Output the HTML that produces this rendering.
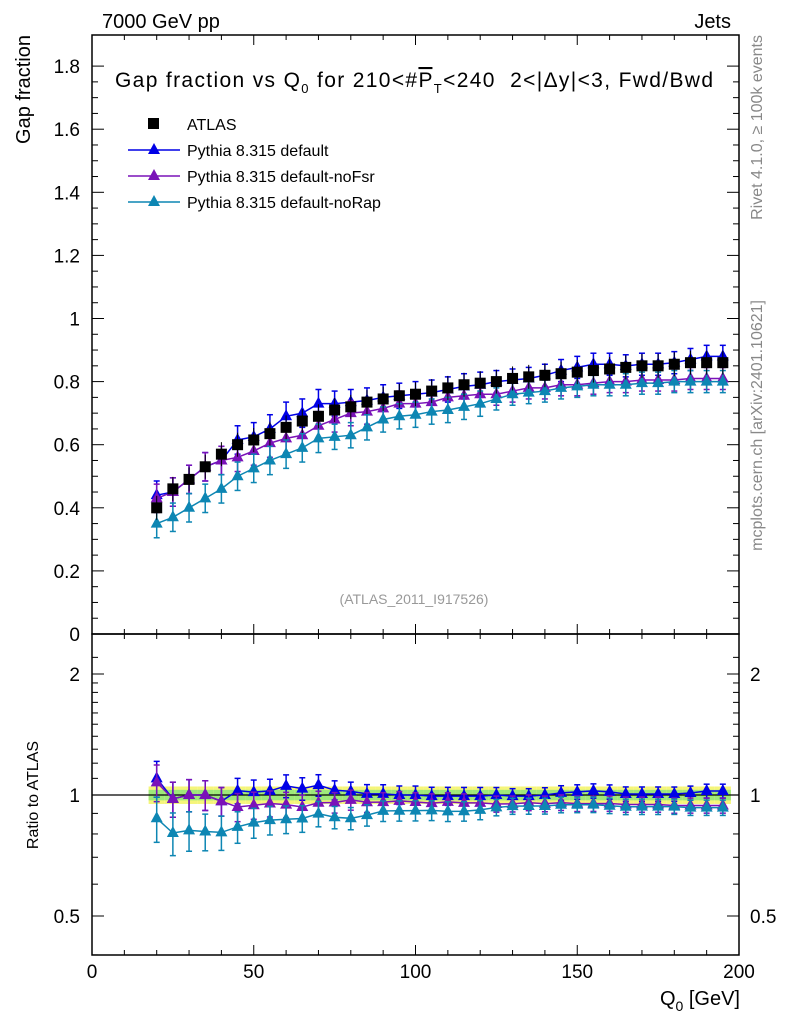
<!DOCTYPE html>
<html><head><meta charset="utf-8"><style>
body{margin:0;background:#fff;}
svg{display:block;font-family:"Liberation Sans",sans-serif;}
</style></head><body>
<svg id="c" width="786" height="1024" xmlns="http://www.w3.org/2000/svg"></svg>
<script>
const qvals=[20,25,30,35,40,45,50,55,60,65,70,75,80,85,90,95,100,105,110,115,120,125,130,135,140,145,150,155,160,165,170,175,180,185,190,195];
const atlas=[0.40,0.46,0.49,0.53,0.57,0.60,0.615,0.635,0.655,0.675,0.69,0.71,0.72,0.735,0.745,0.755,0.76,0.77,0.78,0.79,0.795,0.80,0.81,0.815,0.82,0.825,0.83,0.835,0.84,0.845,0.85,0.85,0.855,0.86,0.86,0.86];
const pyDefault=[0.44,0.45,0.49,0.53,0.55,0.615,0.625,0.65,0.69,0.70,0.73,0.73,0.735,0.74,0.75,0.755,0.76,0.765,0.775,0.785,0.79,0.80,0.805,0.81,0.82,0.835,0.845,0.855,0.855,0.85,0.855,0.855,0.86,0.87,0.88,0.88];
const pyNoFsr=[0.43,0.45,0.49,0.53,0.55,0.56,0.58,0.605,0.62,0.63,0.66,0.68,0.70,0.705,0.715,0.73,0.73,0.735,0.75,0.755,0.76,0.76,0.77,0.78,0.78,0.79,0.79,0.795,0.80,0.80,0.805,0.805,0.805,0.81,0.81,0.81];
const pyNoRap=[0.35,0.37,0.40,0.43,0.46,0.50,0.525,0.55,0.57,0.59,0.62,0.625,0.63,0.655,0.68,0.69,0.695,0.705,0.71,0.72,0.73,0.745,0.76,0.765,0.77,0.78,0.785,0.79,0.79,0.79,0.795,0.795,0.80,0.80,0.80,0.80];
const mcErr=[0.045,0.045,0.045,0.045,0.045,0.045,0.045,0.045,0.045,0.045,0.045,0.04,0.04,0.04,0.04,0.04,0.04,0.04,0.04,0.04,0.04,0.035,0.035,0.035,0.035,0.035,0.035,0.035,0.035,0.035,0.035,0.035,0.035,0.035,0.035,0.035];
const xTicks=[0,50,100,150,200];
const yTicks=[0,0.2,0.4,0.6,0.8,1,1.2,1.4,1.6,1.8];
const rTicks=[0.5,1,2];
const series=[
 {name:"Pythia 8.315 default",vals:pyDefault,col:"#0000e6",key:"default"},
 {name:"Pythia 8.315 default-noFsr",vals:pyNoFsr,col:"#7a12b8",key:"nofsr"},
 {name:"Pythia 8.315 default-noRap",vals:pyNoRap,col:"#0d86b3",key:"norap"}];

const svg=document.getElementById('c');
const NS="http://www.w3.org/2000/svg";
function mk(t,a,p){const e=document.createElementNS(NS,t);for(const k in a)e.setAttribute(k,a[k]);(p||svg).appendChild(e);return e;}
const L=92,R=739,T1=35,B1=634,T2=634,B2=955;
const X=v=>L+v*(R-L)/200;
const Y=v=>634-v*315.5;
const YR=r=>795-Math.log2(r)*121;

let f1=mk('rect',{x:L,y:T1,width:R-L,height:B1-T1,fill:'none',stroke:'#000','stroke-width':1.5});

let f2=mk('rect',{x:L,y:T2,width:R-L,height:B2-T2,fill:'none',stroke:'#000','stroke-width':1.5});


for(let v=0;v<=200;v+=10){const maj=v%50===0;const x=X(v);
 mk('line',{x1:x,y1:B1,x2:x,y2:B1-(maj?10:5),stroke:'#000'});
 mk('line',{x1:x,y1:T1,x2:x,y2:T1+(maj?10:5),stroke:'#000'});
 mk('line',{x1:x,y1:B2,x2:x,y2:B2-(maj?10:5),stroke:'#000'});
 mk('line',{x1:x,y1:T2,x2:x,y2:T2+(maj?10:5),stroke:'#000'});}
xTicks.forEach(v=>{const t=mk('text',{x:X(v),y:978,'font-size':19,'text-anchor':'middle'});t.textContent=v;
 });
for(let v=0;v<=1.85;v+=0.05){const maj=Math.abs(v*5-Math.round(v*5))<1e-6;const y=Y(v);
 mk('line',{x1:L,y1:y,x2:L+(maj?12:6),y2:y,stroke:'#000'});mk('line',{x1:R,y1:y,x2:R-(maj?12:6),y2:y,stroke:'#000'});}
yTicks.forEach(v=>{const t=mk('text',{x:80,y:Y(v)+7,'font-size':19,'text-anchor':'end'});t.textContent=String(v);
 });
[0.4,0.5,0.6,0.7,0.8,0.9,1,1.1,1.2,1.3,1.4,1.5,1.6,1.7,1.8,1.9,2,2.2].forEach(r=>{const y=YR(r);if(y<T2||y>B2)return;const maj=rTicks.includes(r);
 mk('line',{x1:L,y1:y,x2:L+(maj?12:6),y2:y,stroke:'#000'});mk('line',{x1:R,y1:y,x2:R-(maj?12:6),y2:y,stroke:'#000'});});
rTicks.forEach(r=>{const t=mk('text',{x:80,y:YR(r)+7,'font-size':19,'text-anchor':'end'});t.textContent=String(r);
 
 const t2=mk('text',{x:750,y:YR(r)+7,'font-size':19});t2.textContent=String(r);
 });

const band=mk('g',{});
qvals.forEach((q,i)=>{const x0=X(q-2.5),x1=X(q+2.5);
 mk('rect',{x:x0,y:YR(1.05),width:x1-x0,height:YR(0.95)-YR(1.05),fill:'#f5f57a'},band);
 mk('rect',{x:x0,y:YR(1.03),width:x1-x0,height:YR(0.97)-YR(1.03),fill:'#9ee87a'},band);});
mk('line',{x1:L,y1:YR(1),x2:R,y2:YR(1),stroke:'#000','stroke-width':1.2});

series.forEach(s=>{
 const g=mk('g',{});
 const pts=qvals.map((q,i)=>X(q)+','+Y(s.vals[i])).join(' ');
 mk('polyline',{points:pts,fill:'none',stroke:s.col,'stroke-width':1.5},g);
 const rpts=qvals.map((q,i)=>X(q)+','+YR(s.vals[i]/atlas[i])).join(' ');
 mk('polyline',{points:rpts,fill:'none',stroke:s.col,'stroke-width':1.5},g);
 qvals.forEach((q,i)=>{const x=X(q),v=s.vals[i],e=mcErr[i];
  [[Y(v),Y(v+e),Y(v-e)],[YR(v/atlas[i]),YR((v+e)/atlas[i]),YR((v-e)/atlas[i])]].forEach(([yc,yt,yb])=>{
   mk('line',{x1:x,y1:yt,x2:x,y2:yb,stroke:s.col,'stroke-width':1.5},g);
   mk('line',{x1:x-3,y1:yt,x2:x+3,y2:yt,stroke:s.col,'stroke-width':1.5},g);
   mk('line',{x1:x-3,y1:yb,x2:x+3,y2:yb,stroke:s.col,'stroke-width':1.5},g);
   mk('polygon',{points:`${x},${yc-7} ${x-6},${yc+4} ${x+6},${yc+4}`,fill:s.col},g);});});});

const ga=mk('g',{});
qvals.forEach((q,i)=>{const x=X(q),y=Y(atlas[i]);
 mk('line',{x1:x,y1:y-12,x2:x,y2:y+12,stroke:'#000'},ga);
 mk('rect',{x:x-5.5,y:y-5.5,width:11,height:11,fill:'#000'},ga);});

const lg=mk('g',{});
mk('rect',{x:148,y:118,width:11,height:11,fill:'#000'},lg);
let t=mk('text',{x:187,y:130,'font-size':16},lg);t.textContent="ATLAS";
series.forEach((s,k)=>{const y=150+k*26;
 mk('line',{x1:128,y1:y,x2:180,y2:y,stroke:s.col,'stroke-width':1.5},lg);
 mk('polygon',{points:`154,${y-7} 148,${y+4} 160,${y+4}`,fill:s.col},lg);
 const tt=mk('text',{x:187,y:y+6,'font-size':16},lg);tt.textContent=s.name;});

function txt(x,y,s,attrs,name){const e=mk('text',Object.assign({x:x,y:y},attrs));e.innerHTML=s;return e;}
txt(102,28,"7000 GeV pp",{'font-size':20},'header-left');
txt(731,28,"Jets",{'font-size':20,'text-anchor':'end'},'header-right');
txt(115,87,'Gap fraction vs Q<tspan font-size="13" dy="6">0</tspan><tspan dy="-6"> for 210&lt;#</tspan><tspan text-decoration="overline">P</tspan><tspan font-size="13" dy="6">T</tspan><tspan dy="-6">&lt;240&#160;&#160;2&lt;|Δy|&lt;3, Fwd/Bwd</tspan>',{'font-size':21,textLength:598,lengthAdjust:'spacing'},'plot-title');
txt(414,604,"(ATLAS_2011_I917526)",{'font-size':14,fill:'#999','text-anchor':'middle'},'analysis-id');
txt(0,0,"Gap fraction",{'font-size':20,'text-anchor':'end',transform:'translate(30,35) rotate(-90)'},'y-axis-title');
txt(0,0,"Ratio to ATLAS",{'font-size':16,'text-anchor':'middle',transform:'translate(38,795) rotate(-90)'},'ratio-axis-title');
txt(740,1005,'Q<tspan font-size="14" dy="6">0</tspan><tspan dy="-6"> [GeV]</tspan>',{'font-size':20,'text-anchor':'end'},'x-axis-title');
txt(0,0,"Rivet 4.1.0, ≥ 100k events",{'font-size':16,fill:'#888','text-anchor':'end',transform:'translate(762,35) rotate(-90)'},'rivet-version-label');
txt(0,0,"mcplots.cern.ch [arXiv:2401.10621]",{'font-size':16,fill:'#888','text-anchor':'end',transform:'translate(762,300) rotate(-90)'},'mcplots-label');
</script>
</body></html>
